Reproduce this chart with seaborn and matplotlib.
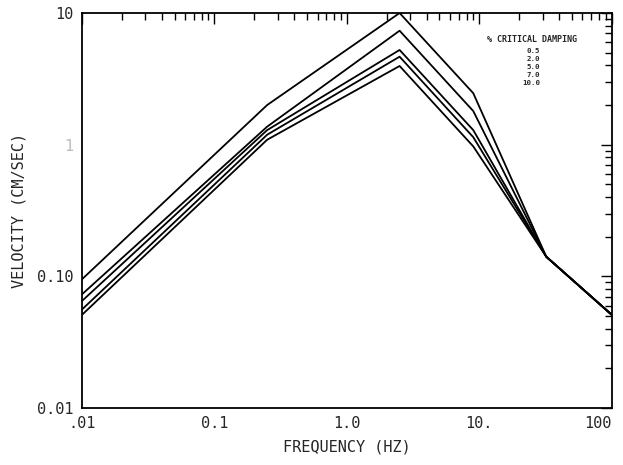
import numpy as np
import pandas as pd
import matplotlib
matplotlib.use("Agg")
import matplotlib.pyplot as plt
import seaborn as sns
from matplotlib.ticker import LogLocator, NullFormatter, FixedLocator

# response spectrum: velocity vs frequency for several damping ratios
freq = [0.01, 0.25, 2.5, 9.0, 32.0, 100.0]
damping = ["0.5", "2.0", "5.0", "7.0", "10.0"]
vel_05 = [0.095, 2.0, 10.0, 2.46, 0.141, 0.051]
vel_20 = [0.073, 1.37, 7.34, 1.80, 0.141, 0.051]
vel_50 = [0.065, 1.29, 5.24, 1.29, 0.141, 0.051]
vel_70 = [0.056, 1.19, 4.66, 1.14, 0.141, 0.051]
vel_100 = [0.051, 1.09, 3.96, 0.97, 0.141, 0.051]

x_ticks = [0.01, 0.1, 1.0, 10.0, 100.0]
x_labels = [".01", "0.1", "1.0", "10.", "100"]
y_ticks = [0.01, 0.1, 1.0, 10.0]
y_labels = ["0.01", "0.10", "1", "10"]

# long format table for seaborn
rows = []
for d, v in zip(damping, [vel_05, vel_20, vel_50, vel_70, vel_100]):
    for f, val in zip(freq, v):
        rows.append({"Frequency": f, "Velocity": val, "Damping": d})
df = pd.DataFrame(rows)

sns.set_style("white")
plt.rcParams["font.family"] = ["DejaVu Sans Mono", "DejaVu Sans"]

fig = plt.figure(figsize=(6.23, 4.65), dpi=100)
ax = fig.add_axes([0.1316, 0.1226, 0.8504, 0.8494])

sns.lineplot(data=df, x="Frequency", y="Velocity", hue="Damping",
             palette=["black"] * len(damping), linewidth=1.3,
             legend=False, ax=ax, sort=False)

ax.set_xscale("log")
ax.set_yscale("log")
ax.set_xlim(0.01, 100)
ax.set_ylim(0.01, 10)

for s in ax.spines.values():
    s.set_color("black")
    s.set_linewidth(1.3)

ax.xaxis.set_major_locator(FixedLocator(x_ticks))
ax.yaxis.set_major_locator(FixedLocator(y_ticks))
ax.xaxis.set_minor_locator(LogLocator(base=10, subs=np.arange(2, 10)))
ax.yaxis.set_minor_locator(LogLocator(base=10, subs=np.arange(2, 10)))
ax.xaxis.set_minor_formatter(NullFormatter())
ax.yaxis.set_minor_formatter(NullFormatter())
ax.set_xticklabels(x_labels, fontsize=11)
ax.set_yticklabels(y_labels, fontsize=11)
ax.get_yticklabels()[2].set_color("#bbbbbb")
ax.get_xticklabels()[-1].set_horizontalalignment("right")

ax.tick_params(which="both", direction="in", top=True, right=True,
               color="black", width=1.0)
ax.tick_params(which="major", length=8, pad=6)
ax.tick_params(which="minor", length=5)

ax.set_xlabel("FREQUENCY (HZ)", fontsize=11, labelpad=6)
ax.set_ylabel("VELOCITY (CM/SEC)", fontsize=11, labelpad=8)

# damping legend in the upper right corner
ax.text(0.935, 0.932, "% CRITICAL DAMPING", transform=ax.transAxes,
        ha="right", va="center", fontsize=6, fontweight="bold")
for i, d in enumerate(damping):
    ax.text(0.865, 0.904 - i * 0.02, d, transform=ax.transAxes,
            ha="right", va="center", fontsize=5.3, fontweight="bold")

fig.savefig("out.png", dpi=100)
